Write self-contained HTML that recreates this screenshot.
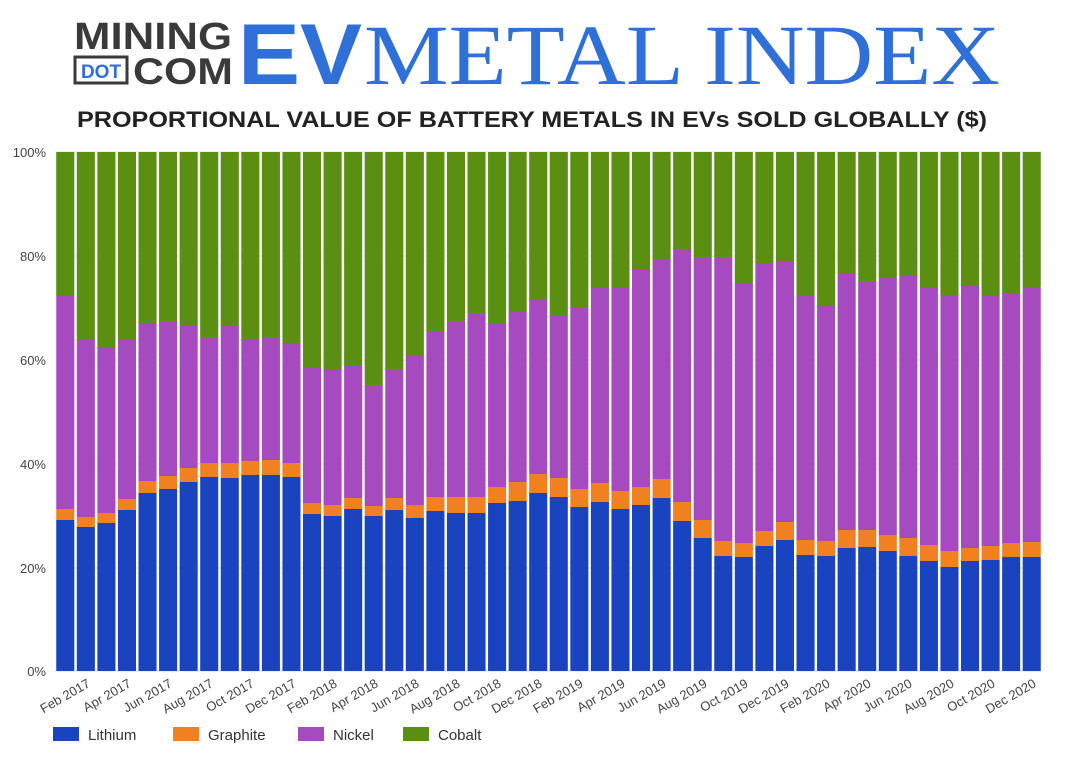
<!DOCTYPE html>
<html><head><meta charset="utf-8">
<style>
body{margin:0;background:#fff;width:1070px;height:764px;overflow:hidden;font-family:"Liberation Sans",sans-serif}
</style></head><body>
<svg width="1070" height="764" xmlns="http://www.w3.org/2000/svg" id="s">
<text x="74" y="49" font-family="Liberation Sans" font-weight="bold" font-size="38" fill="#3a3a3a" textLength="158" lengthAdjust="spacingAndGlyphs">MINING</text>
<rect x="75" y="57" width="52" height="26" fill="none" stroke="#3a3a3a" stroke-width="3"/>
<text x="101" y="78" text-anchor="middle" font-family="Liberation Sans" font-weight="bold" font-size="19" fill="#2e6fd8">DOT</text>
<text x="133" y="84" font-family="Liberation Sans" font-weight="bold" font-size="37" fill="#3a3a3a" textLength="100" lengthAdjust="spacingAndGlyphs">COM</text>
<text x="238" y="84" font-family="Liberation Sans" font-weight="bold" font-size="86" fill="#2e6fd8" textLength="124" lengthAdjust="spacingAndGlyphs">EV</text>
<text x="364" y="84" font-family="Liberation Serif" font-size="86" fill="#2e6fd8" textLength="636" lengthAdjust="spacingAndGlyphs">METAL INDEX</text>
<text x="532" y="127" text-anchor="middle" font-family="Liberation Sans" font-weight="bold" font-size="22" fill="#222" textLength="910" lengthAdjust="spacingAndGlyphs">PROPORTIONAL VALUE OF BATTERY METALS IN EVs SOLD GLOBALLY ($)</text>
<g font-family="Liberation Sans" font-size="13" fill="#444" text-anchor="end">
<text x="46" y="157">100%</text><text x="46" y="261">80%</text><text x="46" y="365">60%</text><text x="46" y="469">40%</text><text x="46" y="573">20%</text><text x="46" y="676">0%</text>
</g>
<g stroke="#ddd" stroke-width="1">
<line x1="55" x2="1042" y1="152" y2="152"/><line x1="55" x2="1042" y1="256" y2="256"/><line x1="55" x2="1042" y1="360" y2="360"/><line x1="55" x2="1042" y1="464" y2="464"/><line x1="55" x2="1042" y1="568" y2="568"/><line x1="55" x2="1042" y1="671" y2="671"/>
</g>
<g id="bars"></g>
<g id="lbl" font-family="Liberation Sans" font-size="13" fill="#444" text-anchor="end">
<text transform="translate(91,686) rotate(-30)">Feb 2017</text>
<text transform="translate(132,686) rotate(-30)">Apr 2017</text>
<text transform="translate(173,686) rotate(-30)">Jun 2017</text>
<text transform="translate(214,686) rotate(-30)">Aug 2017</text>
<text transform="translate(255,686) rotate(-30)">Oct 2017</text>
<text transform="translate(297,686) rotate(-30)">Dec 2017</text>
<text transform="translate(338,686) rotate(-30)">Feb 2018</text>
<text transform="translate(379,686) rotate(-30)">Apr 2018</text>
<text transform="translate(420,686) rotate(-30)">Jun 2018</text>
<text transform="translate(461,686) rotate(-30)">Aug 2018</text>
<text transform="translate(502,686) rotate(-30)">Oct 2018</text>
<text transform="translate(543,686) rotate(-30)">Dec 2018</text>
<text transform="translate(584,686) rotate(-30)">Feb 2019</text>
<text transform="translate(626,686) rotate(-30)">Apr 2019</text>
<text transform="translate(667,686) rotate(-30)">Jun 2019</text>
<text transform="translate(708,686) rotate(-30)">Aug 2019</text>
<text transform="translate(749,686) rotate(-30)">Oct 2019</text>
<text transform="translate(790,686) rotate(-30)">Dec 2019</text>
<text transform="translate(831,686) rotate(-30)">Feb 2020</text>
<text transform="translate(872,686) rotate(-30)">Apr 2020</text>
<text transform="translate(913,686) rotate(-30)">Jun 2020</text>
<text transform="translate(955,686) rotate(-30)">Aug 2020</text>
<text transform="translate(996,686) rotate(-30)">Oct 2020</text>
<text transform="translate(1037,686) rotate(-30)">Dec 2020</text>
</g>
<g font-family="Liberation Sans" font-size="15" fill="#333">
<rect x="53" y="727" width="26" height="14" fill="#1a43bf"/><text x="88" y="740">Lithium</text>
<rect x="173" y="727" width="26" height="14" fill="#f08020"/><text x="208" y="740">Graphite</text>
<rect x="298" y="727" width="26" height="14" fill="#a64ac0"/><text x="333" y="740">Nickel</text>
<rect x="403" y="727" width="26" height="14" fill="#5b8f12"/><text x="438" y="740">Cobalt</text>
</g>
</svg>
<script>
var d=[[520,509,296],[527,517,339],[523,513,347],[510,499,340],[493,481,323],[489,476,321],[482,468,326],[477,463,337],[478,463,326],[475,461,339],[475,460,337],[477,463,343],[514,503,368],[516,505,370],[509,498,365],[516,506,385],[510,498,369],[518,505,356],[511,497,331],[513,497,321],[513,497,313],[503,487,323],[501,482,312],[493,474,300],[497,478,315],[507,489,308],[502,483,288],[509,491,288],[505,487,270],[498,479,259],[521,502,249],[538,520,257],[556,541,257],[557,543,283],[546,531,263],[540,522,262],[555,540,296],[556,541,306],[548,530,274],[547,530,281],[551,535,278],[556,538,275],[561,545,288],[567,551,295],[561,548,286],[560,546,296],[557,543,294],[557,542,287]];
var g=document.getElementById('bars'),ns='http://www.w3.org/2000/svg',st=(1042-55)/48;
function r(x,y,h,c){var e=document.createElementNS(ns,'rect');e.setAttribute('x',x);e.setAttribute('y',y);e.setAttribute('width',st-2.5);e.setAttribute('height',h);e.setAttribute('fill',c);g.appendChild(e);}
d.forEach(function(v,i){var x=55+i*st+1.25;
r(x,152,v[2]-152,'#5b8f12');r(x,v[2],v[1]-v[2],'#a64ac0');r(x,v[1],v[0]-v[1],'#f08020');r(x,v[0],671-v[0],'#1a43bf');});
</script>
</body></html>
